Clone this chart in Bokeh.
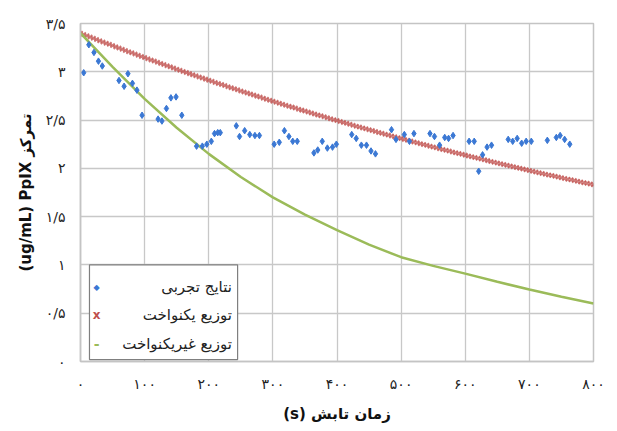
from bokeh.plotting import figure
from bokeh.models import Range1d, FixedTicker, CustomJSTickFormatter, Label, BoxAnnotation
from bokeh.embed import file_html
from bokeh.resources import INLINE

# Measured PpIX concentration (ug/mL) against irradiation time (s)
exp_time = [5, 13, 21, 28, 34, 60, 68, 74, 81, 88, 96, 121, 127, 134, 141, 149, 158,
            181, 190, 197, 204, 209, 214, 218, 243, 248, 256, 264, 272, 279, 302, 310,
            318, 325, 331, 338, 364, 370, 377, 385, 393, 399, 423, 430, 438, 446, 453,
            460, 485, 492, 505, 513, 520, 545, 552, 560, 568, 574, 581, 606, 614, 621,
            627, 634, 641, 667, 674, 681, 688, 695, 703, 728, 742, 748, 755, 763]
exp_conc = [2.99, 3.28, 3.20, 3.11, 3.06, 2.91, 2.85, 2.98, 2.88, 2.81, 2.55, 2.51, 2.49,
            2.62, 2.73, 2.74, 2.55, 2.23, 2.23, 2.25, 2.28, 2.36, 2.37, 2.37, 2.44, 2.33,
            2.39, 2.35, 2.34, 2.34, 2.25, 2.27, 2.39, 2.33, 2.28, 2.28, 2.16, 2.19, 2.28,
            2.21, 2.22, 2.25, 2.35, 2.31, 2.24, 2.24, 2.18, 2.15, 2.40, 2.30, 2.35, 2.28,
            2.36, 2.36, 2.33, 2.24, 2.32, 2.31, 2.34, 2.28, 2.28, 1.97, 2.14, 2.22, 2.24,
            2.30, 2.28, 2.31, 2.26, 2.28, 2.28, 2.29, 2.32, 2.34, 2.30, 2.25]

# Uniform-distribution model, one sample every 5 s
uni_time = list(range(0, 805, 5))
uni_conc = [
    3.400, 3.387, 3.374, 3.361, 3.348, 3.335, 3.322, 3.309, 3.296, 3.284,
    3.271, 3.258, 3.246, 3.233, 3.221, 3.208, 3.196, 3.184, 3.171, 3.159,
    3.147, 3.135, 3.123, 3.111, 3.099, 3.087, 3.075, 3.063, 3.051, 3.039,
    3.027, 3.016, 3.004, 2.992, 2.981, 2.969, 2.958, 2.946, 2.935, 2.924,
    2.912, 2.901, 2.890, 2.879, 2.868, 2.857, 2.846, 2.835, 2.824, 2.813,
    2.802, 2.791, 2.780, 2.770, 2.759, 2.748, 2.738, 2.727, 2.716, 2.706,
    2.696, 2.685, 2.675, 2.664, 2.654, 2.644, 2.634, 2.624, 2.613, 2.603,
    2.593, 2.583, 2.573, 2.563, 2.553, 2.544, 2.534, 2.524, 2.514, 2.504,
    2.495, 2.485, 2.476, 2.466, 2.456, 2.447, 2.437, 2.428, 2.419, 2.409,
    2.400, 2.391, 2.382, 2.372, 2.363, 2.354, 2.345, 2.336, 2.327, 2.318,
    2.309, 2.300, 2.291, 2.282, 2.273, 2.265, 2.256, 2.247, 2.239, 2.230,
    2.221, 2.213, 2.204, 2.196, 2.187, 2.179, 2.170, 2.162, 2.154, 2.145,
    2.137, 2.129, 2.121, 2.112, 2.104, 2.096, 2.088, 2.080, 2.072, 2.064,
    2.056, 2.048, 2.040, 2.032, 2.024, 2.016, 2.009, 2.001, 1.993, 1.985,
    1.978, 1.970, 1.963, 1.955, 1.947, 1.940, 1.932, 1.925, 1.918, 1.910,
    1.903, 1.895, 1.888, 1.881, 1.874, 1.866, 1.859, 1.852, 1.845, 1.838,
    1.831,
]

# Non-uniform-distribution model
nonuni_time = [0, 50, 100, 150, 200, 250, 300, 350, 400, 450, 500, 550, 600, 650, 700, 750, 800]
nonuni_conc = [3.40, 3.05, 2.72, 2.42, 2.15, 1.91, 1.70, 1.52, 1.36, 1.21, 1.08, 0.99,
               0.91, 0.825, 0.745, 0.67, 0.60]

# Axis ticks and their Persian labels
x_ticks = [0, 100, 200, 300, 400, 500, 600, 700, 800]
x_tick_labels = ["۰", "۱۰۰", "۲۰۰", "۳۰۰", "۴۰۰", "۵۰۰", "۶۰۰", "۷۰۰", "۸۰۰"]
y_ticks = [0, 0.5, 1, 1.5, 2, 2.5, 3, 3.5]
y_tick_labels = ["۰", "۰/۵", "۱", "۱/۵", "۲", "۲/۵", "۳", "۳/۵"]

series_names = ["نتایج تجربی", "توزیع یکنواخت", "توزیع غیریکنواخت"]
x_title = "(s) زمان تابش"
y_title = "(ug/mL) PpIX تمرکز"

FONT = "DejaVu Sans"
BLUE = "#3b78d4"
RED = "#c0504d"
GREEN = "#9bbb59"

p = figure(width=617, height=431, output_backend="svg", toolbar_location=None,
           x_range=Range1d(0, 800), y_range=Range1d(0, 3.5),
           min_border_left=80, min_border_right=24, min_border_top=23, min_border_bottom=70)
p.background_fill_color = "white"
p.border_fill_color = "white"
p.outline_line_color = "#c4c4c4"
p.outline_line_width = 1.5

tick_js = "const i = vals.indexOf(tick); return i < 0 ? '' : labels[i];"
p.xaxis.ticker = FixedTicker(ticks=x_ticks)
p.yaxis.ticker = FixedTicker(ticks=y_ticks)
p.xaxis.formatter = CustomJSTickFormatter(args=dict(vals=x_ticks, labels=x_tick_labels), code=tick_js)
p.yaxis.formatter = CustomJSTickFormatter(args=dict(vals=y_ticks, labels=y_tick_labels), code=tick_js)

for ax in (p.xaxis, p.yaxis):
    ax.axis_line_color = "#c4c4c4"
    ax.axis_line_width = 1.5
    ax.major_tick_line_color = None
    ax.minor_tick_line_color = None
    ax.major_label_text_font = FONT
    ax.major_label_text_font_size = "14px"
    ax.major_label_text_color = "#222222"
    ax.axis_label_text_font = FONT
    ax.axis_label_text_font_style = "bold"
    ax.axis_label_text_color = "#111111"

p.xaxis.major_label_standoff = 8
p.yaxis.major_label_standoff = 9
p.xaxis.axis_label = x_title
p.yaxis.axis_label = y_title
p.xaxis.axis_label_text_font_size = "15px"
p.yaxis.axis_label_text_font_size = "15px"
p.xaxis.axis_label_standoff = 10
p.yaxis.axis_label_standoff = 8

p.xgrid.ticker = FixedTicker(ticks=x_ticks)
p.ygrid.ticker = FixedTicker(ticks=y_ticks)
p.grid.grid_line_color = "#c8c8c8"
p.grid.grid_line_width = 1.3

# Model curves and measured points
p.scatter(uni_time, uni_conc, marker="x", size=6, line_color=RED, line_width=1.8, line_alpha=0.75)
p.line(nonuni_time, nonuni_conc, line_color=GREEN, line_width=2.5)
p.scatter(exp_time, exp_conc, marker="diamond", size=6.5, fill_color=BLUE, line_color=BLUE)

# Right-to-left legend box
p.add_layout(BoxAnnotation(left=14, right=245, bottom=0.02, top=1.0,
                           fill_color="white", fill_alpha=1.0,
                           line_color="#7f7f7f", line_width=1.2, line_alpha=1.0))
legend_y = [0.77, 0.485, 0.185]
swatch_text = ["◆", "x", "-"]
swatch_color = [BLUE, RED, GREEN]
swatch_size = ["8px", "12px", "14px"]
for name, yy, sw, col, sz in zip(series_names, legend_y, swatch_text, swatch_color, swatch_size):
    p.add_layout(Label(x=236, y=yy, text=name, text_align="right", text_baseline="middle",
                       text_font=FONT, text_font_size="15px", text_color="#222222"))
    p.add_layout(Label(x=25, y=yy, text=sw, text_align="center", text_baseline="middle",
                       text_font=FONT, text_font_size=sz, text_color=col,
                       text_font_style="bold"))

with open("out.html", "w") as f:
    f.write(file_html(p, INLINE))
